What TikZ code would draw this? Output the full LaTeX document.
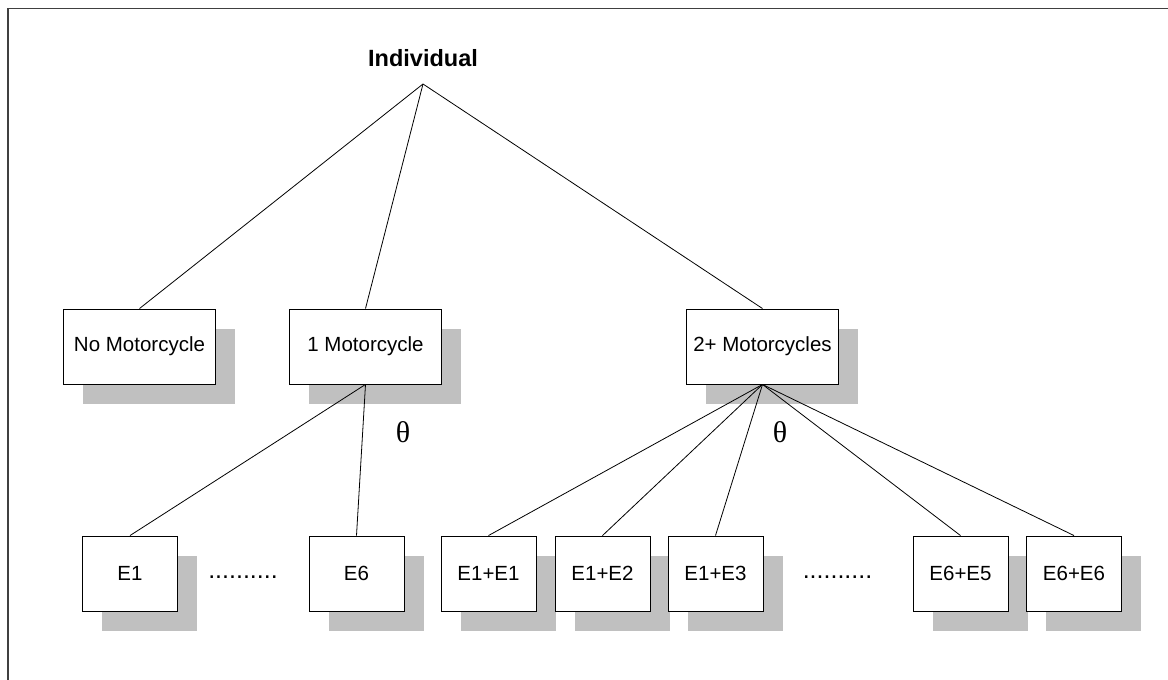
\documentclass[tikz,border=0pt]{standalone}
\usepackage{fontspec}
\setmainfont{Liberation Sans}
\newfontfamily\thetafont{Liberation Serif}
\usepackage{tikz}
\usetikzlibrary{shadows}
\usetikzlibrary{positioning}
\definecolor{tree-line}{HTML}{000000}
\definecolor{tree-shadow}{HTML}{C0C0C0}
\definecolor{tree-frame}{HTML}{404040}

\tikzset{
    catbox/.style={draw=tree-line, fill=white, line width=0.9pt, minimum height=75pt,
        inner sep=0pt, font=\fontsize{20.5}{24}\selectfont,
        general shadow={fill=tree-shadow, shadow xshift=19.5pt, shadow yshift=-19.5pt}},
    bigbox/.style={catbox, minimum width=152pt},
    smallbox/.style={catbox, minimum width=95pt},
    branch/.style={tree-line, line width=0.8pt},
    dotrow/.style={font=\fontsize{25}{30}\selectfont},
    thetalabel/.style={font=\thetafont\fontsize{30}{34}\selectfont}
}

\begin{document}
\begin{tikzpicture}[x=1pt, y=-1pt]
    \useasboundingbox (0,0) rectangle (1168,680);

    % Frame
    \draw[tree-frame, line width=1.1pt] (8,680) -- (8,8.5) -- (1168,8.5);

    % Root
    \node[font=\fontsize{23.5}{28}\selectfont\bfseries] (root) at (423,58) {Individual};
    \coordinate (apex) at (423,84);

    % Number of motorcycles
    \node[bigbox] (nomc) at (139.5,346.5) {No Motorcycle};
    \node[bigbox] (onemc) at (365.5,346.5) {1 Motorcycle};
    \node[bigbox] (twomc) at (762.5,346.5) {2+ Motorcycles};

    % Engine types, one motorcycle
    \node[smallbox] (e1) at (130,573.5) {E1};
    \node[smallbox] (e6) at (356.5,573.5) {E6};
    \node[dotrow] (dotsa) at (243,577) {..........};

    % Engine pairs, two or more motorcycles
    \node[smallbox] (e11) at (488.5,573.5) {E1+E1};
    \node[smallbox] (e12) at (602.5,573.5) {E1+E2};
    \node[smallbox] (e13) at (715.5,573.5) {E1+E3};
    \node[dotrow] (dotsb) at (837.5,577) {..........};
    \node[smallbox] (e65) at (960.5,573.5) {E6+E5};
    \node[smallbox] (e66) at (1074,573.5) {E6+E6};

    % Nesting parameters
    \node[thetalabel] (thetaa) at (403,432) {θ};
    \node[thetalabel] (thetab) at (780,432) {θ};

    % Branches
    \foreach \n in {nomc, onemc, twomc} {
        \draw[branch] (apex) -- (\n.north);
    }
    \foreach \n in {e1, e6} {
        \draw[branch] (onemc.south) -- (\n.north);
    }
    \foreach \n in {e11, e12, e13, e65, e66} {
        \draw[branch] (twomc.south) -- (\n.north);
    }
\end{tikzpicture}
\end{document}
